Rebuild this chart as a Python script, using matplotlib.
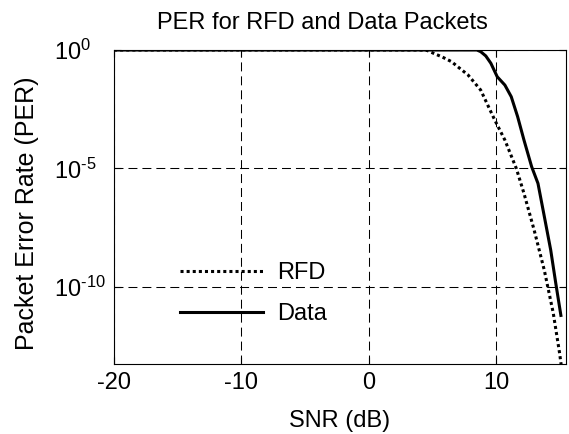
import numpy as np
import matplotlib.pyplot as plt

plt.rcParams['font.family'] = ['Liberation Sans', 'DejaVu Sans']
plt.rcParams['mathtext.fontset'] = 'custom'
plt.rcParams['mathtext.rm'] = 'Liberation Sans'
plt.rcParams['mathtext.it'] = 'Liberation Sans'
plt.rcParams['axes.unicode_minus'] = False

# SNR values (dB) and log10(PER)
snr_rfd = [-20, 0, 4.0, 4.6, 5.1, 5.8, 6.5, 7.1, 7.8, 8.8, 9.9, 10.7, 11.6, 12.2, 13.0, 13.8, 14.5, 15.0, 15.2]
log_per_rfd = [0, 0, 0, -0.02, -0.14, -0.3, -0.49, -0.75, -1.05, -1.69, -2.95, -3.8, -5.0, -6.05, -7.6, -9.3, -11.1, -12.8, -13.6]

snr_data = [-20, 0, 8.5, 8.8, 9.2, 9.6, 10.1, 10.7, 11.2, 11.7, 12.2, 12.8, 13.3, 13.8, 14.3, 14.7, 15.1]
log_per_data = [0, 0, 0, -0.07, -0.25, -0.56, -1.13, -1.48, -1.97, -2.81, -3.8, -4.92, -5.63, -7.03, -8.44, -9.85, -11.2]

per_rfd = 10.0 ** np.array(log_per_rfd)
per_data = 10.0 ** np.array(log_per_data)

fig = plt.figure(figsize=(5.69, 4.34), dpi=100)
ax = fig.add_axes([0.2004, 0.1613, 0.7943, 0.7235])

ax.semilogy(snr_rfd, per_rfd, color='black', linestyle=(0, (1, 1)), linewidth=2.2, label='RFD')
ax.semilogy(snr_data, per_data, color='black', linestyle='-', linewidth=2.2, label='Data')

ax.set_xlim(-20, 15.5)
ax.set_ylim(10 ** -13.25, 1)
ax.set_xticks([-20, -10, 0, 10])
ax.set_yticks([1, 1e-5, 1e-10])
ax.set_yticklabels(['$\\mathregular{10^{0}}$', '$\\mathregular{10^{\\text{-5}}}$',
                    '$\\mathregular{10^{\\text{-10}}}$'])
ax.minorticks_off()
ax.tick_params(direction='in', labelsize=17, length=5, top=True, right=True)
ax.tick_params(axis='x', pad=6)
ax.tick_params(axis='y', pad=43)
for lab in ax.get_yticklabels():
    lab.set_horizontalalignment('left')
ax.grid(True, color='black', linestyle=(0, (8.6, 4.8)), linewidth=0.75)

ax.set_title('PER for RFD and Data Packets', fontsize=17, pad=15, x=0.462)
ax.set_xlabel('SNR (dB)', fontsize=17, labelpad=11)
ax.set_ylabel('Packet Error Rate (PER)', fontsize=18)
ax.yaxis.set_label_coords(-0.165, 0.481)

ax.legend(loc='upper left', bbox_to_anchor=(180 / 569, (434 - 262) / 434),
          bbox_transform=fig.transFigure, frameon=False, fontsize=17,
          handlelength=3.5, handletextpad=0.6, labelspacing=0.8,
          borderpad=0, borderaxespad=0)

fig.savefig('out.png', dpi=100)
